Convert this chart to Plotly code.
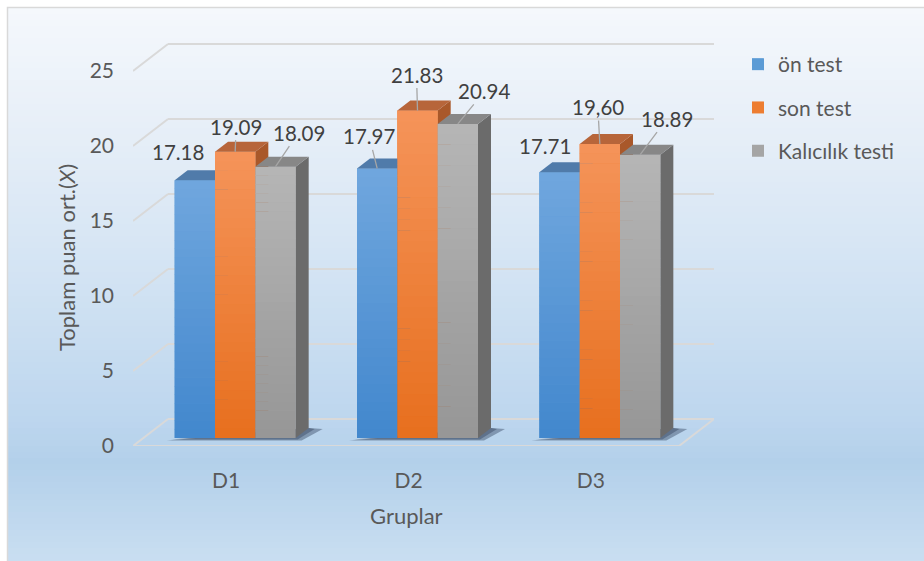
import plotly.graph_objects as go

# ---------------- data ----------------
groups = ["D1", "D2", "D3"]
series_names = ["ön test", "son test", "Kalıcılık testi"]
on_test = [17.18, 17.97, 17.71]
son_test = [19.09, 21.83, 19.60]
kalicilik = [18.09, 20.94, 18.89]
label_on = ["17.18", "17.97", "17.71"]
label_son = ["19.09", "21.83", "19,60"]
label_kal = ["18.09", "20.94", "18.89"]
y_ticks = [0, 5, 10, 15, 20, 25]
x_title = "Gruplar"
y_title = "Toplam puan ort.(<i>X</i>)"

series_values = [on_test, son_test, kalicilik]
series_labels = [label_on, label_son, label_kal]

# ---------------- styling ----------------
FONT = "Lato"
W, H = 924, 561
L_PX, R_PX, T_PX, B_PX = 133, 714, 36, 446
PXX = (R_PX - L_PX - 34) / 3.0          # px per category unit
PXY = 15.0                               # px per value unit
XR = [-0.5 - 11 / PXX, 2.5 + 23 / PXX]
YR = [-8 / PXY, -8 / PXY + (B_PX - T_PX) / PXY]
BARGAP = 1 - 121 / PXX
BW = (1 - BARGAP) / 3

front_top = [(112, 167, 222), (245, 148, 90), (182, 182, 182)]
front_bot = [(66, 135, 205), (231, 111, 30), (150, 150, 150)]
side_col = ["#3d6a9c", "#a9582a", "#6b6b6b"]
top_col = ["#507baa", "#b7653a", "#878787"]
legend_col = ["#5b9bd5", "#ed7d31", "#a5a5a5"]
# label offsets (px) of text center from bar front-top center, and leader flag
label_off = [
    [(-17, -28, False), (-8, -32, True), (-15, -26, False)],
    [(1, -25, True), (-1, -36, True), (-2, -37, True)],
    [(23, -34, True), (27, -33, True), (27, -36, True)],
]


def rgb(c):
    return "rgb(%d,%d,%d)" % tuple(int(round(v)) for v in c)


def mix(a, b, t):
    return tuple(a[i] + (b[i] - a[i]) * t for i in range(3))


fig = go.Figure()
for s, name in enumerate(series_names):
    fig.add_trace(go.Bar(
        x=groups, y=series_values[s], name=name,
        marker=dict(color=legend_col[s], line=dict(width=0)),
        legendgroup=name,
    ))

shapes = []


def px2paper_x(px):
    return (px - L_PX) / (R_PX - L_PX)


def px2paper_y(py):
    return (B_PX - py) / (B_PX - T_PX)


# background gradient (paper coords)
bg_stops = [(8, (245, 248, 252)), (150, (228, 237, 247)), (280, (210, 227, 243)),
            (420, (189, 214, 238)), (462, (179, 208, 234)), (561, (201, 222, 241))]


def bg_color(py):
    for i in range(len(bg_stops) - 1):
        y0, c0 = bg_stops[i]
        y1, c1 = bg_stops[i + 1]
        if py <= y1:
            return mix(c0, c1, (py - y0) / (y1 - y0))
    return bg_stops[-1][1]


band = 6
py = 8
while py < H:
    py2 = min(py + band, H)
    shapes.append(dict(type="rect", xref="paper", yref="paper", layer="below",
                       x0=px2paper_x(8), x1=px2paper_x(W + 2),
                       y0=px2paper_y(py), y1=px2paper_y(py2 + 0.6),
                       fillcolor=rgb(bg_color((py + py2) / 2)), line=dict(width=0)))
    py = py2
# border
shapes.append(dict(type="rect", xref="paper", yref="paper", layer="below",
                   x0=px2paper_x(7.5), x1=px2paper_x(W + 5),
                   y0=px2paper_y(7.5), y1=px2paper_y(H + 5),
                   fillcolor="rgba(0,0,0,0)", line=dict(color="#d9d9d9", width=1.5)))

# grid (3D walls) in data coords
DX = 35 / PXX
DY = 27 / PXY
FY = -8 / PXY
grid_col = "#d9d9d9"
for v in y_ticks:
    fy = v + FY
    by = fy + DY
    shapes.append(dict(type="line", xref="x", yref="y", layer="below",
                       x0=XR[0], y0=fy, x1=XR[0] + DX, y1=by,
                       line=dict(color=grid_col, width=2)))
    shapes.append(dict(type="line", xref="x", yref="y", layer="below",
                       x0=XR[0] + DX, y0=by, x1=XR[1], y1=by,
                       line=dict(color=grid_col, width=2)))
# floor front and right edges
shapes.append(dict(type="line", xref="x", yref="y", layer="below",
                   x0=XR[0], y0=FY, x1=XR[1] - DX, y1=FY,
                   line=dict(color=grid_col, width=2)))
shapes.append(dict(type="line", xref="x", yref="y", layer="below",
                   x0=XR[1] - DX, y0=FY, x1=XR[1], y1=FY + DY,
                   line=dict(color=grid_col, width=2)))

# 3D bar faces
ddx = 13 / PXX
ddy = 10 / PXY
N = 30
for g in range(len(groups)):
    xb0 = g - 1.5 * BW
    xg1 = g + 1.5 * BW
    # soft shadow on floor
    shapes.append(dict(type="path", xref="x", yref="y", layer="above",
                       path="M %f,%f L %f,%f L %f,%f L %f,%f Z" % (
                           xb0 - 8 / PXX, -2.5 / PXY, xg1 + 6 / PXX, -2.5 / PXY,
                           xg1 + ddx + 14 / PXX, ddy - 1 / PXY, xg1 + ddx, ddy),
                       fillcolor="rgba(35,50,75,0.38)", line=dict(width=0)))
    shapes.append(dict(type="path", xref="x", yref="y", layer="above",
                       path="M %f,%f L %f,%f L %f,%f L %f,%f Z" % (
                           xb0 - 4 / PXX, -1.5 / PXY, xg1 + 2 / PXX, -1.5 / PXY,
                           xg1 + ddx + 6 / PXX, ddy - 1 / PXY, xg1 + ddx, ddy),
                       fillcolor="rgba(35,50,75,0.35)", line=dict(width=0)))
    for s in range(3):
        v = series_values[s][g]
        xc = g + (s - 1) * BW
        x0, x1 = xc - BW / 2, xc + BW / 2
        # side face
        shapes.append(dict(type="path", xref="x", yref="y", layer="above",
                           path="M %f,%f L %f,%f L %f,%f L %f,%f Z" % (
                               x1, 0, x1 + ddx, ddy, x1 + ddx, v + ddy, x1, v),
                           fillcolor=side_col[s], line=dict(width=0)))
        # front gradient
        for k in range(N):
            y0 = v * k / N
            y1 = v * (k + 1) / N + (0.03 if k < N - 1 else 0)
            c = mix(front_bot[s], front_top[s], (k + 0.5) / N)
            shapes.append(dict(type="rect", xref="x", yref="y", layer="above",
                               x0=x0, x1=x1, y0=y0, y1=y1,
                               fillcolor=rgb(c), line=dict(width=0)))
        # top face
        shapes.append(dict(type="path", xref="x", yref="y", layer="above",
                           path="M %f,%f L %f,%f L %f,%f L %f,%f Z" % (
                               x0, v, x1, v, x1 + ddx, v + ddy, x0 + ddx, v + ddy),
                           fillcolor=top_col[s], line=dict(width=0)))

# data labels with leader lines
annotations = []
for s in range(3):
    for g in range(len(groups)):
        v = series_values[s][g]
        xc = g + (s - 1) * BW
        ax, ay, leader = label_off[s][g]
        annotations.append(dict(
            x=xc, y=v, xref="x", yref="y", text=series_labels[s][g],
            showarrow=True, ax=ax, ay=ay, arrowhead=0, arrowwidth=1.3,
            arrowcolor="#a6a6a6" if leader else "rgba(0,0,0,0)", standoff=0,
            font=dict(family=FONT, size=20.5, color="#404040"),
        ))

annotations.append(dict(x=px2paper_x(66), y=px2paper_y(258), xref="paper", yref="paper",
                        text=y_title, textangle=-90, showarrow=False,
                        xanchor="center", yanchor="middle",
                        font=dict(family=FONT, size=22, color="#595959")))
annotations.append(dict(x=px2paper_x(406), y=px2paper_y(515), xref="paper", yref="paper",
                        text=x_title, showarrow=False, xanchor="center", yanchor="middle",
                        font=dict(family=FONT, size=22, color="#595959")))

fig.update_layout(
    width=W, height=H,
    margin=dict(l=L_PX, r=W - R_PX, t=T_PX, b=H - B_PX, pad=0),
    paper_bgcolor="white", plot_bgcolor="rgba(0,0,0,0)",
    barmode="group", bargap=BARGAP, bargroupgap=0,
    font=dict(family=FONT, size=20, color="#595959"),
    xaxis=dict(range=XR, showgrid=False, zeroline=False, showline=False,
               ticks="", tickfont=dict(size=21, color="#595959"),
               ticklabelshift=-9, ticklabelstandoff=20, fixedrange=True),
    yaxis=dict(range=YR, tickvals=y_ticks, showgrid=False, zeroline=False,
               showline=False, ticks="", tickfont=dict(size=21, color="#595959"),
               ticklabelshift=8, ticklabelstandoff=18, fixedrange=True),
    legend=dict(x=px2paper_x(738), y=px2paper_y(44), xanchor="left", yanchor="top",
                bgcolor="rgba(0,0,0,0)", font=dict(family=FONT, size=21, color="#595959"),
                tracegroupgap=13, traceorder="grouped"),
    shapes=shapes, annotations=annotations, showlegend=True,
)

fig.write_html("out.html")
